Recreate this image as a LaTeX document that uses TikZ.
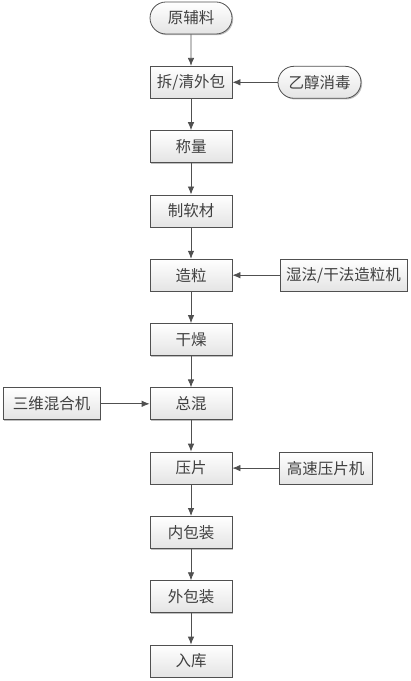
\documentclass[tikz,border=0pt]{standalone}
\usepackage{fontspec}
\newfontfamily\cjk{Noto Sans CJK SC}
\usetikzlibrary{arrows.meta,shadows,shapes.misc}
\definecolor{edge}{HTML}{505050}
\definecolor{boxbot}{HTML}{E4E4E4}
\tikzset{
  base/.style={draw=edge, line width=0.8pt, top color=white, bottom color=boxbot,
    drop shadow={shadow xshift=1.2pt, shadow yshift=-1.2pt, fill=black, opacity=0.25},
    font=\cjk\fontsize{15.5bp}{17bp}\selectfont, text=black!75, inner sep=0pt, minimum height=32bp},
  proc/.style={base, rectangle, minimum width=82bp},
  term/.style={base, rounded rectangle, minimum width=82bp},
  conn/.style={draw=edge, line width=0.8pt, -{Latex[length=8bp,width=6.5bp]}},
}
\begin{document}
\begin{tikzpicture}[x=1bp,y=-1bp]
\useasboundingbox (0,0) rectangle (410,681);
\node[term] (n0) at (191,18) {原辅料};
\node[proc] (n1) at (191,82.3) {拆/清外包};
\node[proc] (n2) at (191,146.6) {称量};
\node[proc] (n3) at (191,210.9) {制软材};
\node[proc] (n4) at (191,275.2) {造粒};
\node[proc] (n5) at (191,339.5) {干燥};
\node[proc] (n6) at (191,403.8) {总混};
\node[proc] (n7) at (191,468.1) {压片};
\node[proc] (n8) at (191,532.4) {内包装};
\node[proc] (n9) at (191,596.7) {外包装};
\node[proc] (n10) at (191,661) {入库};
\node[term, minimum width=83bp] (s1) at (319.5,82.3) {乙醇消毒};
\node[proc, minimum width=127bp] (s2) at (343.5,275.2) {湿法/干法造粒机};
\node[proc, minimum width=97bp] (s3) at (51.5,403.8) {三维混合机};
\node[proc, minimum width=93bp] (s4) at (325.5,468.1) {高速压片机};
\foreach \a/\b in {n0/n1,n1/n2,n2/n3,n3/n4,n4/n5,n5/n6,n6/n7,n7/n8,n8/n9,n9/n10}
  \draw[conn] (\a) -- (\b);
\draw[conn] (s1) -- (n1);
\draw[conn] (s2) -- (n4);
\draw[conn] (s3) -- (n6);
\draw[conn] (s4) -- (n7);
\end{tikzpicture}
\end{document}
